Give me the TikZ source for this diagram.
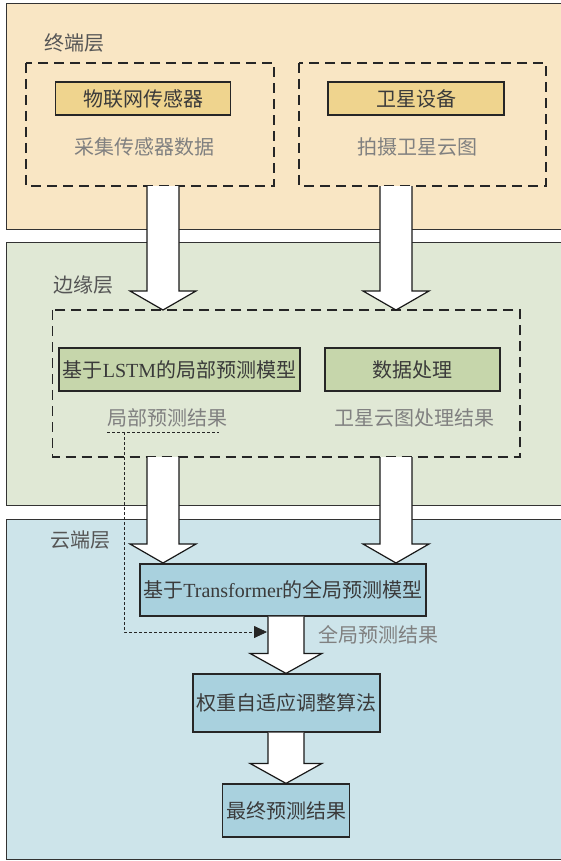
\documentclass[tikz,border=0pt]{standalone}
\usepackage{fontspec}
\setmainfont{Liberation Serif}
\newfontfamily\cjk{Noto Sans CJK SC}
\newcommand{\zh}[1]{{\cjk #1}}
\usetikzlibrary{arrows.meta}
\definecolor{layerA}{HTML}{F9E6C4}
\definecolor{boxA}{HTML}{EFD48E}
\definecolor{layerB}{HTML}{E0E8D5}
\definecolor{boxB}{HTML}{C6D6AB}
\definecolor{layerC}{HTML}{CDE4EA}
\definecolor{boxC}{HTML}{A9D1DE}
\definecolor{txtdark}{HTML}{3A3A3A}
\definecolor{txtgray}{HTML}{808080}
\definecolor{txtlabel}{HTML}{555555}
\newcommand{\blockarrow}[5]{%
  \fill[white] ([xshift=-#3pt]#1) -- ([xshift=-#3pt,yshift=#5pt]#2) -- ([xshift=-#4pt,yshift=#5pt]#2) -- (#2) -- ([xshift=#4pt,yshift=#5pt]#2) -- ([xshift=#3pt,yshift=#5pt]#2) -- ([xshift=#3pt]#1) -- cycle;
  \draw[bigarrowline] ([xshift=-#3pt]#1) -- ([xshift=-#3pt,yshift=#5pt]#2) -- ([xshift=-#4pt,yshift=#5pt]#2) -- (#2) -- ([xshift=#4pt,yshift=#5pt]#2) -- ([xshift=#3pt,yshift=#5pt]#2) -- ([xshift=#3pt]#1);
}
\tikzset{
  layerbox/.style={draw=black!80, line width=0.9pt},
  groupbox/.style={draw=black!85, line width=1.2pt, dash pattern=on 10pt off 6pt},
  stepbox/.style={draw=black!85, line width=1.2pt, inner sep=0pt, text=txtdark, font=\fontsize{20}{23}\selectfont},
  plaintext/.style={inner sep=0pt, text=txtgray, font=\fontsize{20}{23}\selectfont},
  layerlabel/.style={inner sep=0pt, text=txtlabel, font=\fontsize{20}{23}\selectfont},
  bigarrowline/.style={draw=black!90, line width=1.2pt, line join=miter},
  dotconn/.style={draw=black!85, line width=0.8pt, dash pattern=on 3pt off 2pt},
}
\begin{document}
\begin{tikzpicture}[x=1pt,y=-1pt]
\useasboundingbox (0,0) rectangle (561,861);
\fill[white] (0,0) rectangle (561,861);
% layers
\filldraw[layerbox, fill=layerA] (6,3) rectangle (575,229);
\filldraw[layerbox, fill=layerB] (6,242) rectangle (575,505);
\filldraw[layerbox, fill=layerC] (6,519) rectangle (575,859);
\node[layerlabel] (lab1) at (74,43) {\zh{终端层}};
\node[layerlabel] (lab2) at (83,285) {\zh{边缘层}};
\node[layerlabel] (lab3) at (80,540) {\zh{云端层}};
% dashed groups
\draw[groupbox] (26,63) rectangle (274,186);
\draw[groupbox] (299,63) rectangle (546,186);
\draw[groupbox] (52.6,310) rectangle (520,457);
% terminal layer
\node[stepbox, fill=boxA, minimum width=175.5pt, minimum height=33pt] (n1) at (143,98.5) {\zh{物联网传感器}};
\node[stepbox, fill=boxA, minimum width=176pt, minimum height=33pt] (n2) at (416,98.5) {\zh{卫星设备}};
\node[plaintext] (t1) at (144,147) {\zh{采集传感器数据}};
\node[plaintext] (t2) at (417,147) {\zh{拍摄卫星云图}};
% edge layer
\node[stepbox, fill=boxB, minimum width=241pt, minimum height=43pt] (n3) at (179.5,369.5) {\zh{基于}LSTM\zh{的局部预测模型}};
\node[stepbox, fill=boxB, minimum width=175pt, minimum height=43pt] (n4) at (412.5,369.5) {\zh{数据处理}};
\node[plaintext] (t3) at (167,418) {\zh{局部预测结果}};
\node[plaintext] (t4) at (414,418) {\zh{卫星云图处理结果}};
% cloud layer
\node[stepbox, fill=boxC, minimum width=286pt, minimum height=52pt] (n5) at (283,590) {\zh{基于}Transformer\zh{的全局预测模型}};
\node[plaintext] (t5) at (378,635) {\zh{全局预测结果}};
\node[stepbox, fill=boxC, minimum width=187pt, minimum height=58pt] (n6) at (286.5,703) {\zh{权重自适应调整算法}};
\node[stepbox, fill=boxC, minimum width=127pt, minimum height=53pt] (n7) at (286,810.5) {\zh{最终预测结果}};
% block arrows
\coordinate (a1s) at (163,186); \coordinate (a1e) at (163,310);
\coordinate (a2s) at (396,186); \coordinate (a2e) at (396,310);
\coordinate (a3s) at (163,457); \coordinate (a3e) at (163,563);
\coordinate (a4s) at (396,457); \coordinate (a4e) at (396,563);
\blockarrow{a1s}{a1e}{16}{33}{19}
\blockarrow{a2s}{a2e}{16}{33}{19}
\blockarrow{a3s}{a3e}{16}{33}{19}
\blockarrow{a4s}{a4e}{16}{33}{19}
\coordinate (axc) at (286,0);
\coordinate (a5s) at (n5.south -| axc); \coordinate (a5e) at (n6.north -| axc);
\coordinate (a6s) at (n6.south -| axc); \coordinate (a6e) at (n7.north -| axc);
\blockarrow{a5s}{a5e}{18}{36}{20}
\blockarrow{a6s}{a6e}{18}{36}{20}
% dotted connector
\coordinate (ul1) at (107,432);
\coordinate (ul2) at (219,432);
\coordinate (ulk) at (124,432);
\coordinate (tipk) at (267,632);
\draw[dotconn] (ul1) -- (ul2);
\draw[dotconn, -{Triangle[length=13pt,width=12pt]}] (ulk) |- (tipk);
\end{tikzpicture}
\end{document}
